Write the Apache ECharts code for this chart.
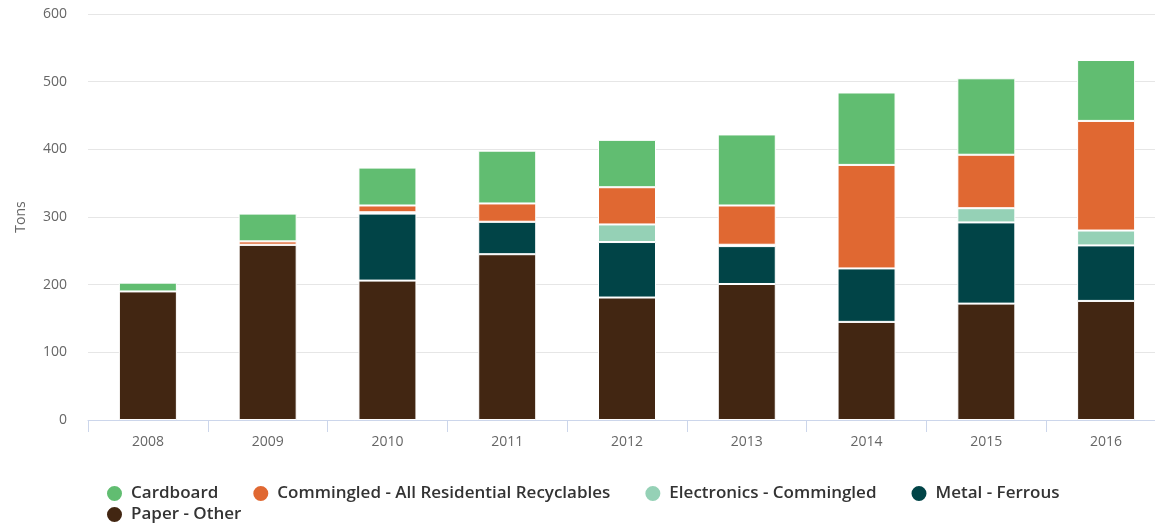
<!DOCTYPE html>
<html>
<head>
<meta charset="utf-8">
<script src="https://cdn.jsdelivr.net/npm/echarts@6/dist/echarts.min.js"></script>
<style>
html,body{margin:0;padding:0;background:#fff;}
#main{width:1155px;height:523px;}
</style>
</head>
<body>
<div id="main"></div>
<script>
const years = ['2008','2009','2010','2011','2012','2013','2014','2015','2016'];
const paperOther = [190, 259, 206, 245, 181, 201, 145, 172, 176];
const metalFerrous = [0, 0, 99, 48, 82, 56, 79, 120, 82];
const electronics = [0, 0, 2, 0, 26, 2, 0, 21, 22];
const commingled = [0, 5, 10, 27, 55, 58, 153, 79, 162];
const cardboard = [13, 41, 56, 78, 70, 105, 107, 113, 90];
const yTicks = [0, 100, 200, 300, 400, 500, 600];

const names = {
  cardboard: 'Cardboard',
  commingled: 'Commingled - All Residential Recyclables',
  electronics: 'Electronics - Commingled',
  metal: 'Metal - Ferrous',
  paper: 'Paper - Other'
};
const colors = {
  cardboard: '#61bd71',
  commingled: '#e06832',
  electronics: '#95d1b6',
  metal: '#014447',
  paper: '#422612'
};

const font = '"Open Sans", Lato, sans-serif';

function bar(key, data) {
  return {
    name: names[key],
    type: 'bar',
    stack: 'total',
    data: data,
    barWidth: 58,
    itemStyle: { color: colors[key], borderColor: '#ffffff', borderWidth: 1 }
  };
}

const legendCommon = {
  left: 100,
  icon: 'circle',
  itemWidth: 17,
  itemHeight: 17,
  itemGap: 33,
  textStyle: { fontFamily: font, fontSize: 17, fontWeight: 600, color: '#333333', padding: [0, 0, 0, 3] }
};

const chart = echarts.init(document.getElementById('main'), null, { renderer: 'canvas' });
chart.setOption({
  animation: false,
  backgroundColor: '#ffffff',
  grid: { left: 88, top: 14, width: 1078, height: 406, containLabel: false, outerBoundsMode: 'none' },
  legend: [
    Object.assign({}, legendCommon, { top: 479, data: [names.cardboard, names.commingled, names.electronics, names.metal] }),
    Object.assign({}, legendCommon, { top: 500, data: [names.paper] })
  ],
  xAxis: {
    type: 'category',
    data: years,
    axisLine: { lineStyle: { color: '#ccd6eb' } },
    axisTick: { show: true, length: 12, lineStyle: { color: '#ccd6eb' } },
    axisLabel: { fontFamily: font, fontSize: 14, color: '#666666', margin: 15 }
  },
  yAxis: {
    type: 'value',
    min: yTicks[0],
    max: yTicks[yTicks.length - 1],
    interval: 100,
    name: 'Tons',
    nameLocation: 'middle',
    nameGap: 60,
    nameTextStyle: { fontFamily: font, fontSize: 14, color: '#666666' },
    axisLine: { show: false },
    axisTick: { show: false },
    axisLabel: { fontFamily: font, fontSize: 14, color: '#666666', margin: 21 },
    splitLine: { lineStyle: { color: '#e6e6e6' } }
  },
  series: [
    bar('paper', paperOther),
    bar('metal', metalFerrous),
    bar('electronics', electronics),
    bar('commingled', commingled),
    bar('cardboard', cardboard)
  ]
});
</script>
</body>
</html>
